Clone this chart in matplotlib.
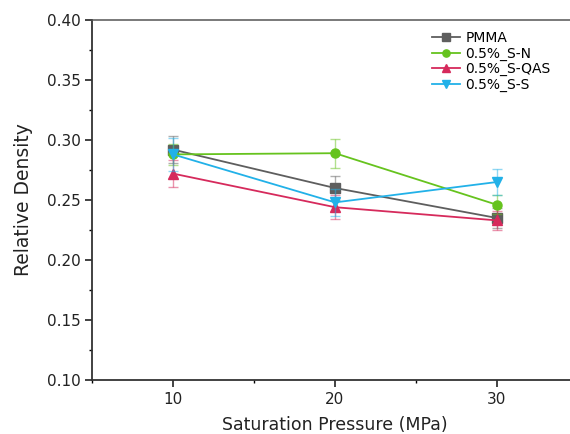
import numpy as np
import matplotlib
matplotlib.use('Agg')
import matplotlib.pyplot as plt
from matplotlib.ticker import MultipleLocator, FormatStrFormatter

# saturation pressure (MPa)
pressure = [10, 20, 30]

# relative density and standard deviation per formulation
pmma = [0.292, 0.260, 0.235]
pmma_err = [0.011, 0.010, 0.008]
s_n = [0.288, 0.289, 0.246]
s_n_err = [0.009, 0.012, 0.008]
s_qas = [0.272, 0.244, 0.233]
s_qas_err = [0.011, 0.010, 0.008]
s_s = [0.288, 0.248, 0.265]
s_s_err = [0.014, 0.011, 0.011]

labels = ['PMMA', '0.5%_S-N', '0.5%_S-QAS', '0.5%_S-S']
colors = ['#5e5e5e', '#66c31e', '#d62a5c', '#22b1e8']
markers = ['s', 'o', '^', 'v']

plt.rcParams['font.family'] = 'DejaVu Sans'

fig = plt.figure(figsize=(5.7, 4.34), dpi=100)
ax = fig.add_axes([92 / 570, 54 / 434, 486 / 570, 360 / 434])

series = [(pmma, pmma_err), (s_n, s_n_err), (s_qas, s_qas_err), (s_s, s_s_err)]
for (vals, errs), lab, c, m in zip(series, labels, colors, markers):
    ax.errorbar(pressure, vals, yerr=errs, fmt='none', ecolor=c, alpha=0.5,
                elinewidth=1.0, capsize=3.5, capthick=1.0)
    ax.plot(pressure, vals, color=c, marker=m, markersize=6.5, linewidth=1.3, label=lab)

ax.set_xlim(5, 35)
ax.set_ylim(0.10, 0.40)
ax.xaxis.set_major_locator(MultipleLocator(10))
ax.xaxis.set_minor_locator(MultipleLocator(5))
ax.yaxis.set_major_locator(MultipleLocator(0.05))
ax.yaxis.set_minor_locator(MultipleLocator(0.025))
ax.yaxis.set_major_formatter(FormatStrFormatter('%.2f'))

ax.tick_params(which='major', direction='out', length=5, width=1.2, labelsize=11, colors='#222222')
ax.tick_params(which='minor', direction='out', length=2.5, width=1.0)
ax.tick_params(axis='x', pad=4)
ax.tick_params(axis='y', pad=3)
ax.spines['right'].set_visible(False)
for s in ['left', 'bottom']:
    ax.spines[s].set_linewidth(1.3)
    ax.spines[s].set_color('#333333')
ax.spines['top'].set_linewidth(1.1)
ax.spines['top'].set_color('#555555')

ax.set_xlabel('Saturation Pressure (MPa)', fontsize=12.5, color='#222222', labelpad=6)
ax.set_ylabel('Relative Density', fontsize=13.5, color='#222222', labelpad=10)

ax.legend(loc='upper left', bbox_to_anchor=(0.70, 0.97), frameon=False, fontsize=10,
          handlelength=2.0, handletextpad=0.4, labelspacing=0.12, borderpad=0,
          borderaxespad=0, markerscale=0.8)

fig.savefig('out.png', dpi=100)
